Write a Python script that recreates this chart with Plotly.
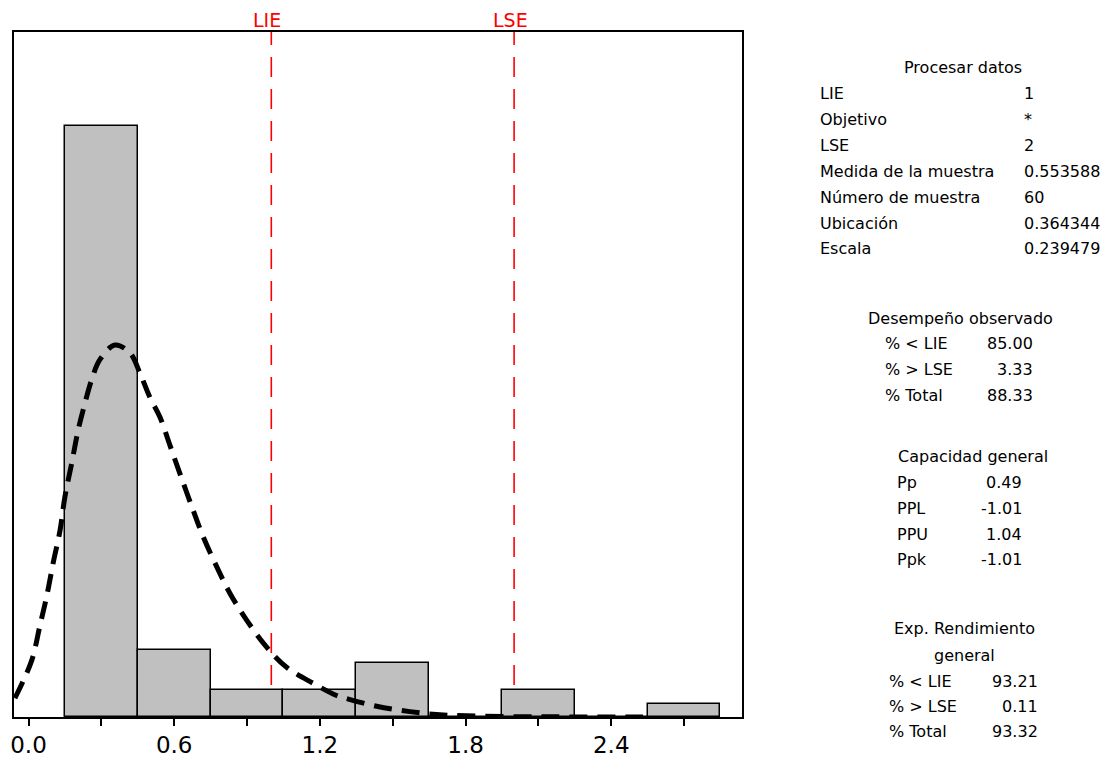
import plotly.graph_objects as go

# ---------------- data ----------------
bin_centers = [0.3, 0.6, 0.9, 1.2, 1.5, 1.8, 2.1, 2.4, 2.7]
bin_counts = [44, 5, 2, 2, 4, 0, 2, 0, 1]
bin_width = 0.3

curve_x = [-0.056, 0.013, 0.047, 0.075, 0.102, 0.130, 0.150, 0.178, 0.205, 0.233,
           0.260, 0.294, 0.356, 0.418, 0.459, 0.500, 0.542, 0.583, 0.628, 0.678,
           0.720, 0.775, 0.830, 0.899, 0.981, 1.063, 1.173, 1.269, 1.324, 1.434,
           1.571, 1.708, 1.860, 2.037, 2.200, 2.531]
curve_y = [1.4, 4.2, 6.8, 9.0, 11.5, 13.9, 16.4, 18.9, 21.4, 23.4,
           25.1, 26.6, 27.7, 27.1, 25.6, 23.8, 22.3, 20.2, 17.9, 15.4,
           13.4, 11.2, 9.2, 7.2, 5.2, 3.7, 2.5, 1.6, 1.3, 0.8,
           0.4, 0.15, 0.07, 0.02, 0.01, 0.0]

spec_values = [1, 2]
spec_labels = ["LIE", "LSE"]

tick_vals = [0.0, 0.3, 0.6, 0.9, 1.2, 1.5, 1.8, 2.1, 2.4, 2.7]
tick_text = ["0.0", "", "0.6", "", "1.2", "", "1.8", "", "2.4", ""]

proc_title = "Procesar datos"
proc_labels = ["LIE", "Objetivo", "LSE", "Medida de la muestra",
               "Número de muestra", "Ubicación", "Escala"]
proc_values = ["1", "*", "2", "0.553588", "60", "0.364344", "0.239479"]

obs_title = "Desempeño observado"
obs_labels = ["% < LIE", "% > LSE", "% Total"]
obs_values = ["85.00", "3.33", "88.33"]

cap_title = "Capacidad general"
cap_labels = ["Pp", "PPL", "PPU", "Ppk"]
cap_values = ["0.49", "-1.01", "1.04", "-1.01"]

exp_title = ["Exp. Rendimiento", "general"]
exp_labels = ["% < LIE", "% > LSE", "% Total"]
exp_values = ["93.21", "0.11", "93.32"]

# ---------------- layout constants ----------------
W, H = 1110, 758
L, R, T, B = 14, 742, 32, 717
FONT = "DejaVu Sans"


def px_x(px):
    return (px - L) / (R - L)


def px_y(py):
    return (B - py) / (B - T)


fig = go.Figure()

fig.add_trace(go.Bar(
    x=bin_centers, y=bin_counts, width=bin_width,
    marker=dict(color="#c0c0c0", line=dict(color="black", width=1.5)),
    hoverinfo="skip", showlegend=False,
))

fig.add_trace(go.Scatter(
    x=curve_x, y=curve_y, mode="lines",
    line=dict(color="black", width=5, dash="18px,10px", shape="spline", smoothing=1.0),
    hoverinfo="skip", showlegend=False,
))

shapes = []
annotations = []
for v, lab in zip(spec_values, spec_labels):
    shapes.append(dict(type="line", xref="x", yref="paper", x0=v, x1=v, y0=0, y1=1,
                       line=dict(color="#ff0000", width=1.6, dash="20px,12px"),
                       layer="below"))
    annotations.append(dict(x=v, y=px_y(20), xref="x", yref="paper", text=lab,
                            showarrow=False, xanchor="center", yanchor="middle", xshift=-4,
                            font=dict(family=FONT, size=19, color="#ff0000")))


def ann(px, py, text, anchor):
    annotations.append(dict(x=px_x(px), y=px_y(py), xref="paper", yref="paper",
                            text=text, showarrow=False, xanchor=anchor, yanchor="middle",
                            font=dict(family=FONT, size=16, color="black")))


# Procesar datos
ann(963, 68, proc_title, "center")
proc_rows = [93, 119, 145, 171, 197, 223, 248]
for y, lab, val in zip(proc_rows, proc_labels, proc_values):
    ann(818, y, lab, "left")
    ann(1022, y, val, "left")

# Desempeño observado
ann(960, 318, obs_title, "center")
for y, lab, val in zip([343, 369, 395], obs_labels, obs_values):
    ann(883, y, lab, "left")
    ann(1035, y, val, "right")

# Capacidad general
ann(973, 456, cap_title, "center")
for y, lab, val in zip([482, 508, 534, 559], cap_labels, cap_values):
    ann(895, y, lab, "left")
    ann(1024, y, val, "right")

# Exp. Rendimiento general
ann(964, 628, exp_title[0], "center")
ann(964, 655, exp_title[1], "center")
for y, lab, val in zip([681, 706, 731], exp_labels, exp_values):
    ann(887, y, lab, "left")
    ann(1040, y, val, "right")

fig.update_layout(
    width=W, height=H,
    margin=dict(l=L, r=W - R, t=T, b=H - B, pad=0, autoexpand=False),
    paper_bgcolor="white", plot_bgcolor="white",
    shapes=shapes, annotations=annotations,
    bargap=0, showlegend=False,
    font=dict(family=FONT, color="black"),
    xaxis=dict(range=[-0.0597, 2.9386], tickmode="array", tickvals=tick_vals, ticktext=tick_text,
               ticks="outside", ticklen=7, tickwidth=1.5, tickcolor="black",
               tickfont=dict(family=FONT, size=23, color="black"),
               showline=True, linecolor="black", linewidth=1.5, mirror=True,
               showgrid=False, zeroline=False, automargin=False),
    yaxis=dict(range=[0, 51.0], showticklabels=False, ticks="",
               showline=True, linecolor="black", linewidth=1.5, mirror=True,
               showgrid=False, zeroline=False, automargin=False),
)

fig.write_html("out.html")
